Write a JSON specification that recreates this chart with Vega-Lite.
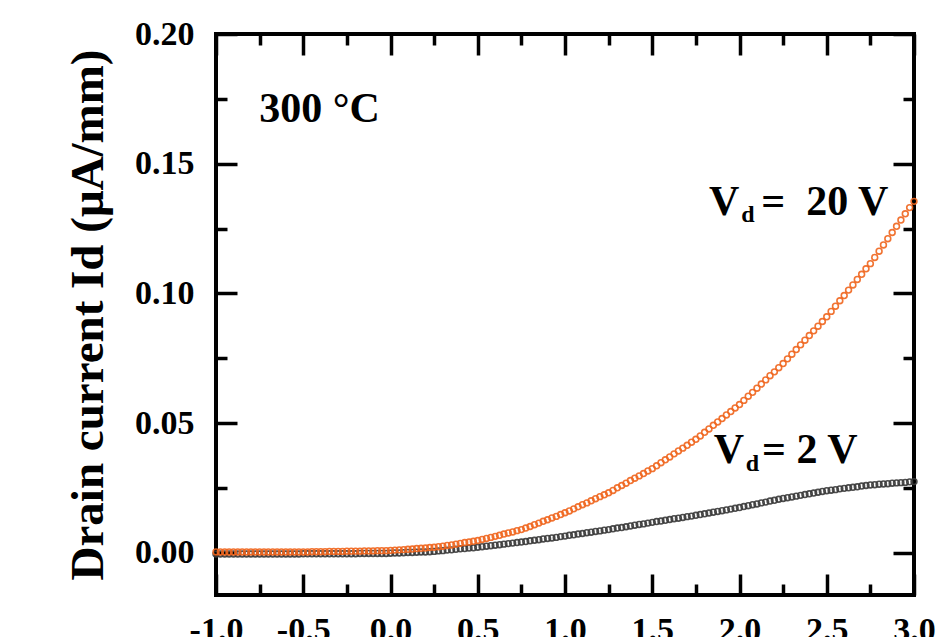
{
  "$schema": "https://vega.github.io/schema/vega-lite/v6.json",
  "autosize": {"type": "none"},
  "padding": {"left": 216, "top": 34, "right": 28, "bottom": 42},
  "width": 698,
  "height": 561,
  "background": "white",
  "config": {
    "view": {"stroke": "black", "strokeWidth": 4},
    "font": "Liberation Serif"
  },
  "datasets": {
    "iv": [
      {"v": -1, "a": 0.0004, "b": -0.0004},
      {"v": -0.975, "a": 0.0004, "b": -0.0004},
      {"v": -0.95, "a": 0.0004, "b": -0.0004},
      {"v": -0.925, "a": 0.0004, "b": -0.0004},
      {"v": -0.9, "a": 0.0004, "b": -0.0004},
      {"v": -0.875, "a": 0.0004, "b": -0.0004},
      {"v": -0.85, "a": 0.0004, "b": -0.0004},
      {"v": -0.825, "a": 0.0004, "b": -0.0004},
      {"v": -0.8, "a": 0.0004, "b": -0.0004},
      {"v": -0.775, "a": 0.0004, "b": -0.0004},
      {"v": -0.75, "a": 0.0004, "b": -0.0004},
      {"v": -0.725, "a": 0.0004, "b": -0.0004},
      {"v": -0.7, "a": 0.0004, "b": -0.0004},
      {"v": -0.675, "a": 0.0004, "b": -0.0004},
      {"v": -0.65, "a": 0.0004, "b": -0.0004},
      {"v": -0.625, "a": 0.0004, "b": -0.0004},
      {"v": -0.6, "a": 0.0004, "b": -0.0004},
      {"v": -0.575, "a": 0.0004, "b": -0.0004},
      {"v": -0.55, "a": 0.0004, "b": -0.0004},
      {"v": -0.525, "a": 0.0004, "b": -0.0004},
      {"v": -0.5, "a": 0.0004, "b": -0.0003},
      {"v": -0.475, "a": 0.0004, "b": -0.0003},
      {"v": -0.45, "a": 0.0005, "b": -0.0003},
      {"v": -0.425, "a": 0.0005, "b": -0.0003},
      {"v": -0.4, "a": 0.0005, "b": -0.0003},
      {"v": -0.375, "a": 0.0005, "b": -0.0003},
      {"v": -0.35, "a": 0.0006, "b": -0.0003},
      {"v": -0.325, "a": 0.0006, "b": -0.0003},
      {"v": -0.3, "a": 0.0006, "b": -0.0003},
      {"v": -0.275, "a": 0.0006, "b": -0.0003},
      {"v": -0.25, "a": 0.0007, "b": -0.0003},
      {"v": -0.225, "a": 0.0007, "b": -0.0003},
      {"v": -0.2, "a": 0.0007, "b": -0.0003},
      {"v": -0.175, "a": 0.0007, "b": -0.0002},
      {"v": -0.15, "a": 0.0008, "b": -0.0002},
      {"v": -0.125, "a": 0.0008, "b": -0.0002},
      {"v": -0.1, "a": 0.0008, "b": -0.0002},
      {"v": -0.075, "a": 0.0009, "b": -0.0002},
      {"v": -0.05, "a": 0.0009, "b": -0.0002},
      {"v": -0.025, "a": 0.0009, "b": -0.0002},
      {"v": 0, "a": 0.0010, "b": -0.0001},
      {"v": 0.025, "a": 0.0011, "b": 0.0000},
      {"v": 0.05, "a": 0.0012, "b": 0.0000},
      {"v": 0.075, "a": 0.0013, "b": 0.0001},
      {"v": 0.1, "a": 0.0014, "b": 0.0002},
      {"v": 0.125, "a": 0.0015, "b": 0.0002},
      {"v": 0.15, "a": 0.0017, "b": 0.0003},
      {"v": 0.175, "a": 0.0018, "b": 0.0004},
      {"v": 0.2, "a": 0.0019, "b": 0.0004},
      {"v": 0.225, "a": 0.0021, "b": 0.0005},
      {"v": 0.25, "a": 0.0022, "b": 0.0006},
      {"v": 0.275, "a": 0.0024, "b": 0.0008},
      {"v": 0.3, "a": 0.0026, "b": 0.0009},
      {"v": 0.325, "a": 0.0029, "b": 0.0011},
      {"v": 0.35, "a": 0.0031, "b": 0.0012},
      {"v": 0.375, "a": 0.0034, "b": 0.0014},
      {"v": 0.4, "a": 0.0037, "b": 0.0016},
      {"v": 0.425, "a": 0.0040, "b": 0.0017},
      {"v": 0.45, "a": 0.0042, "b": 0.0019},
      {"v": 0.475, "a": 0.0045, "b": 0.0020},
      {"v": 0.5, "a": 0.0048, "b": 0.0022},
      {"v": 0.525, "a": 0.0052, "b": 0.0024},
      {"v": 0.55, "a": 0.0056, "b": 0.0026},
      {"v": 0.575, "a": 0.0060, "b": 0.0028},
      {"v": 0.6, "a": 0.0064, "b": 0.0030},
      {"v": 0.625, "a": 0.0068, "b": 0.0032},
      {"v": 0.65, "a": 0.0073, "b": 0.0034},
      {"v": 0.675, "a": 0.0077, "b": 0.0036},
      {"v": 0.7, "a": 0.0081, "b": 0.0038},
      {"v": 0.725, "a": 0.0086, "b": 0.0040},
      {"v": 0.75, "a": 0.0090, "b": 0.0042},
      {"v": 0.775, "a": 0.0096, "b": 0.0044},
      {"v": 0.8, "a": 0.0102, "b": 0.0047},
      {"v": 0.825, "a": 0.0109, "b": 0.0049},
      {"v": 0.85, "a": 0.0115, "b": 0.0051},
      {"v": 0.875, "a": 0.0122, "b": 0.0054},
      {"v": 0.9, "a": 0.0128, "b": 0.0056},
      {"v": 0.925, "a": 0.0135, "b": 0.0058},
      {"v": 0.95, "a": 0.0141, "b": 0.0060},
      {"v": 0.975, "a": 0.0148, "b": 0.0063},
      {"v": 1.0, "a": 0.0155, "b": 0.0065},
      {"v": 1.025, "a": 0.0162, "b": 0.0068},
      {"v": 1.05, "a": 0.0170, "b": 0.0070},
      {"v": 1.075, "a": 0.0178, "b": 0.0073},
      {"v": 1.1, "a": 0.0186, "b": 0.0075},
      {"v": 1.125, "a": 0.0193, "b": 0.0078},
      {"v": 1.15, "a": 0.0201, "b": 0.0080},
      {"v": 1.175, "a": 0.0209, "b": 0.0083},
      {"v": 1.2, "a": 0.0217, "b": 0.0085},
      {"v": 1.225, "a": 0.0224, "b": 0.0088},
      {"v": 1.25, "a": 0.0232, "b": 0.0090},
      {"v": 1.275, "a": 0.0241, "b": 0.0093},
      {"v": 1.3, "a": 0.0251, "b": 0.0096},
      {"v": 1.325, "a": 0.0260, "b": 0.0098},
      {"v": 1.35, "a": 0.0269, "b": 0.0101},
      {"v": 1.375, "a": 0.0279, "b": 0.0104},
      {"v": 1.4, "a": 0.0288, "b": 0.0107},
      {"v": 1.425, "a": 0.0297, "b": 0.0110},
      {"v": 1.45, "a": 0.0306, "b": 0.0112},
      {"v": 1.475, "a": 0.0316, "b": 0.0115},
      {"v": 1.5, "a": 0.0325, "b": 0.0118},
      {"v": 1.525, "a": 0.0336, "b": 0.0121},
      {"v": 1.55, "a": 0.0348, "b": 0.0123},
      {"v": 1.575, "a": 0.0359, "b": 0.0126},
      {"v": 1.6, "a": 0.0370, "b": 0.0129},
      {"v": 1.625, "a": 0.0382, "b": 0.0132},
      {"v": 1.65, "a": 0.0393, "b": 0.0134},
      {"v": 1.675, "a": 0.0404, "b": 0.0137},
      {"v": 1.7, "a": 0.0415, "b": 0.0140},
      {"v": 1.725, "a": 0.0427, "b": 0.0142},
      {"v": 1.75, "a": 0.0438, "b": 0.0145},
      {"v": 1.775, "a": 0.0451, "b": 0.0148},
      {"v": 1.8, "a": 0.0465, "b": 0.0151},
      {"v": 1.825, "a": 0.0478, "b": 0.0154},
      {"v": 1.85, "a": 0.0492, "b": 0.0157},
      {"v": 1.875, "a": 0.0505, "b": 0.0160},
      {"v": 1.9, "a": 0.0518, "b": 0.0163},
      {"v": 1.925, "a": 0.0532, "b": 0.0166},
      {"v": 1.95, "a": 0.0545, "b": 0.0169},
      {"v": 1.975, "a": 0.0559, "b": 0.0172},
      {"v": 2.0, "a": 0.0572, "b": 0.0175},
      {"v": 2.025, "a": 0.0588, "b": 0.0179},
      {"v": 2.05, "a": 0.0604, "b": 0.0182},
      {"v": 2.075, "a": 0.0619, "b": 0.0186},
      {"v": 2.1, "a": 0.0635, "b": 0.0189},
      {"v": 2.125, "a": 0.0651, "b": 0.0193},
      {"v": 2.15, "a": 0.0667, "b": 0.0196},
      {"v": 2.175, "a": 0.0683, "b": 0.0200},
      {"v": 2.2, "a": 0.0698, "b": 0.0203},
      {"v": 2.225, "a": 0.0714, "b": 0.0207},
      {"v": 2.25, "a": 0.0730, "b": 0.0210},
      {"v": 2.275, "a": 0.0748, "b": 0.0213},
      {"v": 2.3, "a": 0.0766, "b": 0.0216},
      {"v": 2.325, "a": 0.0784, "b": 0.0219},
      {"v": 2.35, "a": 0.0802, "b": 0.0222},
      {"v": 2.375, "a": 0.0820, "b": 0.0225},
      {"v": 2.4, "a": 0.0838, "b": 0.0228},
      {"v": 2.425, "a": 0.0856, "b": 0.0231},
      {"v": 2.45, "a": 0.0874, "b": 0.0234},
      {"v": 2.475, "a": 0.0892, "b": 0.0237},
      {"v": 2.5, "a": 0.0910, "b": 0.0240},
      {"v": 2.525, "a": 0.0931, "b": 0.0242},
      {"v": 2.55, "a": 0.0951, "b": 0.0244},
      {"v": 2.575, "a": 0.0972, "b": 0.0247},
      {"v": 2.6, "a": 0.0992, "b": 0.0249},
      {"v": 2.625, "a": 0.1013, "b": 0.0251},
      {"v": 2.65, "a": 0.1033, "b": 0.0253},
      {"v": 2.675, "a": 0.1054, "b": 0.0255},
      {"v": 2.7, "a": 0.1074, "b": 0.0258},
      {"v": 2.725, "a": 0.1095, "b": 0.0260},
      {"v": 2.75, "a": 0.1115, "b": 0.0262},
      {"v": 2.775, "a": 0.1139, "b": 0.0263},
      {"v": 2.8, "a": 0.1163, "b": 0.0265},
      {"v": 2.825, "a": 0.1187, "b": 0.0266},
      {"v": 2.85, "a": 0.1211, "b": 0.0267},
      {"v": 2.875, "a": 0.1235, "b": 0.0269},
      {"v": 2.9, "a": 0.1259, "b": 0.0270},
      {"v": 2.925, "a": 0.1283, "b": 0.0271},
      {"v": 2.95, "a": 0.1307, "b": 0.0272},
      {"v": 2.975, "a": 0.1331, "b": 0.0274},
      {"v": 3.0, "a": 0.1355, "b": 0.0275}
    ],
    "labels": [
      {"t": "300 °C", "x": -0.752, "y": 0.1661},
      {"t": "V", "x": 1.825, "y": 0.1303},
      {"t": "= \u00a020 V", "x": 2.125, "y": 0.1303},
      {"t": "V", "x": 1.852, "y": 0.0347},
      {"t": "= 2 V", "x": 2.129, "y": 0.0347}
    ],
    "subs": [
      {"t": "d", "x": 2.010, "y": 0.1275},
      {"t": "d", "x": 2.036, "y": 0.0316}
    ]
  },
  "layer": [
    {
      "data": {"name": "iv"},
      "transform": [{"fold": ["a", "b"], "as": ["key", "val"]}],
      "mark": {"type": "point", "shape": "circle", "filled": false, "size": 34, "strokeWidth": 1.6, "opacity": 0.9},
      "encoding": {
        "x": {
          "field": "v", "type": "quantitative",
          "scale": {"domain": [-1, 3], "nice": false, "zero": false},
          "axis": {
            "orient": "bottom", "title": null, "domain": false, "grid": false,
            "values": [-1, -0.75, -0.5, -0.25, 0, 0.25, 0.5, 0.75, 1, 1.25, 1.5, 1.75, 2, 2.25, 2.5, 2.75, 3],
            "tickSize": {"condition": {"test": "abs(datum.value*2 - round(datum.value*2)) < 0.01", "value": -21}, "value": -11},
            "tickWidth": 3.5, "tickColor": "black",
            "labelExpr": "abs(datum.value*2 - round(datum.value*2)) < 0.01 ? replace(format(datum.value, '.1f'), '\u2212', '-') : ''",
            "labelFont": "Liberation Serif", "labelFontWeight": "bold", "labelFontSize": 34, "labelColor": "black",
            "labelPadding": 39, "labelBaseline": "top", "labelOverlap": false, "labelFlush": false
          }
        },
        "y": {
          "field": "val", "type": "quantitative",
          "scale": {"domain": [-0.0162, 0.2], "nice": false, "zero": false},
          "axis": {
            "orient": "left", "domain": false, "grid": false,
            "title": "Drain current Id (μA/mm)",
            "titleFont": "Liberation Serif", "titleFontWeight": "bold", "titleFontSize": 47, "titleColor": "black", "titlePadding": 22,
            "values": [0, 0.025, 0.05, 0.075, 0.1, 0.125, 0.15, 0.175, 0.2],
            "tickSize": {"condition": {"test": "abs(datum.value*20 - round(datum.value*20)) < 0.01", "value": -21}, "value": -11},
            "tickWidth": 3.5, "tickColor": "black",
            "labelExpr": "abs(datum.value*20 - round(datum.value*20)) < 0.01 ? format(datum.value, '.2f') : ''",
            "labelFont": "Liberation Serif", "labelFontWeight": "bold", "labelFontSize": 34, "labelColor": "black",
            "labelPadding": 43, "labelOverlap": false, "labelFlush": false
          }
        },
        "color": {"field": "key", "type": "nominal", "scale": {"domain": ["a", "b"], "range": ["#F0661E", "#3a3a3a"]}, "legend": null},
        "order": {"field": "key", "sort": "descending"}
      }
    },
    {
      "data": {"name": "labels"},
      "mark": {"type": "text", "align": "left", "baseline": "alphabetic", "font": "Liberation Serif", "fontWeight": "bold", "fontSize": 42, "color": "black"},
      "encoding": {
        "x": {
          "field": "x", "type": "quantitative",
          "scale": {"domain": [-1, 3], "nice": false, "zero": false},
          "axis": {
            "orient": "top", "title": null, "domain": false, "grid": false, "labels": false,
            "values": [-1, -0.75, -0.5, -0.25, 0, 0.25, 0.5, 0.75, 1, 1.25, 1.5, 1.75, 2, 2.25, 2.5, 2.75, 3],
            "tickSize": {"condition": {"test": "abs(datum.value*2 - round(datum.value*2)) < 0.01", "value": -21}, "value": -11},
            "tickWidth": 3.5, "tickColor": "black"
          }
        },
        "y": {
          "field": "y", "type": "quantitative",
          "scale": {"domain": [-0.0162, 0.2], "nice": false, "zero": false},
          "axis": {
            "orient": "right", "title": null, "domain": false, "grid": false, "labels": false,
            "values": [0, 0.025, 0.05, 0.075, 0.1, 0.125, 0.15, 0.175, 0.2],
            "tickSize": {"condition": {"test": "abs(datum.value*20 - round(datum.value*20)) < 0.01", "value": -21}, "value": -11},
            "tickWidth": 3.5, "tickColor": "black"
          }
        },
        "text": {"field": "t", "type": "nominal"}
      }
    },
    {
      "data": {"name": "subs"},
      "mark": {"type": "text", "align": "left", "baseline": "alphabetic", "font": "Liberation Serif", "fontWeight": "bold", "fontSize": 24, "color": "black"},
      "encoding": {
        "x": {"field": "x", "type": "quantitative", "scale": {"domain": [-1, 3], "nice": false, "zero": false}, "axis": null},
        "y": {"field": "y", "type": "quantitative", "scale": {"domain": [-0.0162, 0.2], "nice": false, "zero": false}, "axis": null},
        "text": {"field": "t", "type": "nominal"}
      }
    }
  ],
  "resolve": {"axis": {"x": "independent", "y": "independent"}}
}
